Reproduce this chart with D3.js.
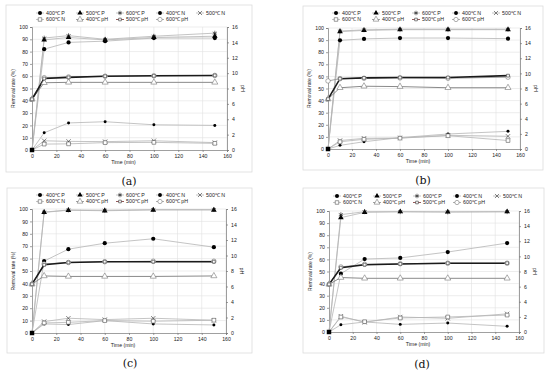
<!DOCTYPE html>
<html>
<head>
<meta charset="utf-8">
<script src="https://cdn.jsdelivr.net/npm/d3@7"></script>
<style>
body { margin: 0; background: #fff; }
svg text { font-family: "Liberation Sans", Arial, sans-serif; fill: #222; }
</style>
</head>
<body>
<svg id="chart" width="550" height="373"></svg>
<script>
// time points and legend names
var times = [0, 10, 30, 60, 100, 150];
var seriesNames = ["400℃ P", "500℃ P", "600℃ P", "400℃ N", "500℃ N",
                   "600℃ N", "400℃ pH", "500℃ pH", "600℃ pH"];
var xTicks = [0, 20, 40, 60, 80, 100, 120, 140, 160];
var yTicks = [0, 10, 20, 30, 40, 50, 60, 70, 80, 90, 100];
var phTicks = [0, 2, 4, 6, 8, 10, 12, 14, 16];
var panelLabels = ["(a)", "(b)", "(c)", "(d)"];

// removal rate (%) rows: 400P, 500P, 600P, 400N, 500N, 600N
var removalA = [
    [0, 82, 87.5, 88.5, 91, 91],
    [0, 89.5, 91.5, 89.5, 91.5, 92.5],
    [0, 91, 93, 90, 92.5, 95],
    [0, 14, 22, 23, 20.5, 20],
    [0, 7.5, 7, 6.8, 7.5, 6],
    [0, 4.8, 5, 6, 6.2, 5.4]
];
var removalB = [
    [0, 89.8, 91, 91.7, 91.7, 91.2],
    [0, 97, 98, 98.6, 98.6, 98.6],
    [0, 97.5, 98.5, 99, 99, 99],
    [0, 3, 6, 9.4, 12.4, 14.6],
    [0, 7, 8.8, 9.1, 11.3, 10.5],
    [0, 6, 8, 9, 11, 7]
];
var removalC = [
    [0, 58, 67.6, 72.4, 76, 69.2],
    [0, 97.3, 99, 98.6, 99.2, 99.2],
    [0, 97.5, 99.2, 99, 99.5, 99.5],
    [0, 7.3, 6.8, 10, 7.3, 6.5],
    [0, 9.2, 11.9, 10.8, 11.9, 10.3],
    [0, 8.1, 8.6, 10, 9.5, 10.3]
];
var removalD = [
    [0, 48.2, 60.3, 61.2, 66.1, 73.5],
    [0, 94.5, 98.9, 99.4, 99.2, 99.4],
    [0, 97, 99.4, 99.4, 99.2, 99.4],
    [0, 6, 8.3, 6.3, 7.4, 4.7],
    [0, 13, 8, 12.4, 11.3, 15],
    [0, 12.4, 8.5, 11.6, 12.4, 14]
];
// pH rows: 400, 500, 600
var phA = [
    [6.6, 8.75, 8.8, 8.8, 8.8, 8.8],
    [6.6, 9.3, 9.45, 9.6, 9.65, 9.7],
    [6.6, 9.4, 9.5, 9.6, 9.65, 9.7]
];
var phB = [
    [6.6, 8.1, 8.3, 8.25, 8.1, 8.1],
    [6.6, 9.3, 9.4, 9.45, 9.45, 9.7],
    [9.0, 9.3, 9.35, 9.4, 9.35, 9.5]
];
var phC = [
    [6.3, 7.36, 7.3, 7.3, 7.3, 7.36],
    [6.3, 8.8, 9.1, 9.2, 9.2, 9.2],
    [6.3, 8.9, 9.1, 9.2, 9.26, 9.26]
];
var phD = [
    [6.3, 7.2, 7.1, 7.1, 7.1, 7.1],
    [6.3, 8.5, 8.9, 9.0, 9.1, 9.1],
    [6.3, 8.6, 8.95, 9.03, 9.1, 9.1]
];

var removalSets = [removalA, removalB, removalC, removalD];
var phSets = [phA, phB, phC, phD];

// panel frames: box and plot area
var panels = [
    {box: [6, 5, 252, 172], plot: [32, 27, 227, 150], legendY: 13, labelX: 129, labelY: 185},
    {box: [303, 6, 543, 170], plot: [328, 28, 520, 149], legendY: 13, labelX: 423, labelY: 184},
    {box: [7, 188, 252, 353], plot: [32, 209, 226, 333], legendY: 195, labelX: 130, labelY: 367},
    {box: [303, 188, 544, 353], plot: [329, 211, 519, 332], legendY: 196, labelX: 422, labelY: 368}
];

// marker / line style per series
var styles = [
    {sym: d3.symbolCircle, size: 14, fill: "#000", stroke: "none", line: "#b5b5b5", lw: 0.8},
    {sym: d3.symbolTriangle, size: 14, fill: "#000", stroke: "none", line: "#b5b5b5", lw: 0.8},
    {sym: d3.symbolAsterisk, size: 16, fill: "none", stroke: "#111", line: "#b5b5b5", lw: 0.8},
    {sym: d3.symbolCircle, size: 7, fill: "#000", stroke: "none", line: "#b5b5b5", lw: 0.8},
    {sym: d3.symbolTimes, size: 14, fill: "none", stroke: "#333", line: "#b5b5b5", lw: 0.8},
    {sym: d3.symbolSquare, size: 14, fill: "#fff", stroke: "#555", line: "#b5b5b5", lw: 0.8},
    {sym: d3.symbolTriangle, size: 16, fill: "#fff", stroke: "#777", line: "#8a8a8a", lw: 1},
    {sym: d3.symbolSquare, size: 8, fill: "#fff", stroke: "#333", line: "#1a1a1a", lw: 1.6},
    {sym: d3.symbolCircle, size: 16, fill: "#fff", stroke: "#777", line: "#999", lw: 0.9}
];

var svg = d3.select('#chart');

panels.forEach(function(p, i) {
    drawPanel(p, removalSets[i], phSets[i], panelLabels[i]);
});

function drawPanel(p, removal, ph, label) {
    var g = svg.append('g');

    g.append('rect')
        .attr('x', p.box[0]).attr('y', p.box[1])
        .attr('width', p.box[2] - p.box[0]).attr('height', p.box[3] - p.box[1])
        .attr('fill', 'none').attr('stroke', '#dcdcdc').attr('stroke-width', 0.8);

    var x = d3.scaleLinear().domain([0, 160]).range([p.plot[0], p.plot[2]]);
    var y = d3.scaleLinear().domain([0, 100]).range([p.plot[3], p.plot[1]]);
    var yPh = d3.scaleLinear().domain([0, 16]).range([p.plot[3], p.plot[1]]);

    // grid
    g.selectAll('.vg').data(xTicks.slice(1)).enter().append('line')
        .attr('x1', x).attr('x2', x).attr('y1', p.plot[1]).attr('y2', p.plot[3])
        .attr('stroke', '#e0e0e0').attr('stroke-width', 0.6);
    g.selectAll('.hg').data(yTicks.slice(1)).enter().append('line')
        .attr('x1', p.plot[0]).attr('x2', p.plot[2]).attr('y1', y).attr('y2', y)
        .attr('stroke', '#e0e0e0').attr('stroke-width', 0.6);

    // axes
    var xAxis = g.append('g').attr('transform', 'translate(0,' + p.plot[3] + ')')
        .call(d3.axisBottom(x).tickValues(xTicks).tickSize(2).tickPadding(2));
    var yAxis = g.append('g').attr('transform', 'translate(' + p.plot[0] + ',0)')
        .call(d3.axisLeft(y).tickValues(yTicks).tickSize(2).tickPadding(2));
    var phAxis = g.append('g').attr('transform', 'translate(' + p.plot[2] + ',0)')
        .call(d3.axisRight(yPh).tickValues(phTicks).tickSize(2).tickPadding(3));
    [xAxis, yAxis, phAxis].forEach(function(a) {
        a.selectAll('path, line').attr('stroke', '#777').attr('stroke-width', 0.7);
        a.selectAll('text').attr('font-size', 5.2).attr('fill', '#222');
    });

    // axis titles
    var midY = (p.plot[1] + p.plot[3]) / 2;
    g.append('text')
        .attr('transform', 'translate(' + (p.plot[0] - 17) + ',' + midY + ') rotate(-90)')
        .attr('text-anchor', 'middle').attr('font-size', 5).text('Removal rate (%)');
    g.append('text')
        .attr('transform', 'translate(' + (p.plot[2] + 14) + ',' + midY + ') rotate(90)')
        .attr('text-anchor', 'middle').attr('font-size', 5.5).text('pH');
    g.append('text')
        .attr('x', (p.plot[0] + p.plot[2]) / 2 - 6).attr('y', p.plot[3] + 14)
        .attr('text-anchor', 'middle').attr('font-size', 5.2).text('Time (min)');

    // series: removal on left axis, pH on right axis
    var all = [];
    removal.forEach(function(vals, k) { all.push({k: k, vals: vals, scale: y}); });
    ph.forEach(function(vals, k) { all.push({k: k + 6, vals: vals, scale: yPh}); });

    // pH black line drawn last so it sits on top
    var order = [0, 1, 2, 3, 4, 5, 6, 8, 7];
    order.forEach(function(idx) {
        var s = all[idx], st = styles[s.k];
        var line = d3.line()
            .x(function(d, j) { return x(times[j]); })
            .y(function(d) { return s.scale(d); });
        g.append('path').datum(s.vals)
            .attr('d', line)
            .attr('fill', 'none').attr('stroke', st.line).attr('stroke-width', st.lw);
    });
    order.forEach(function(idx) {
        var s = all[idx], st = styles[s.k];
        g.selectAll(null).data(s.vals.slice(1)).enter().append('path')
            .attr('transform', function(d, j) {
                return 'translate(' + x(times[j + 1]) + ',' + s.scale(d) + ')';
            })
            .attr('d', d3.symbol().type(st.sym).size(st.size))
            .attr('fill', st.fill).attr('stroke', st.stroke).attr('stroke-width', 0.6);
        if (s.k >= 6) {
            g.append('path')
                .attr('transform', 'translate(' + x(times[0]) + ',' + s.scale(s.vals[0]) + ')')
                .attr('d', d3.symbol().type(st.sym).size(st.size))
                .attr('fill', st.fill).attr('stroke', st.stroke).attr('stroke-width', 0.6);
        }
    });
    // stacked starting points at the origin
    g.append('path')
        .attr('transform', 'translate(' + x(0) + ',' + y(0) + ')')
        .attr('d', d3.symbol().type(d3.symbolSquare).size(20))
        .attr('fill', '#000');

    // legend
    seriesNames.forEach(function(name, k) {
        var row = k < 5 ? 0 : 1, col = k < 5 ? k : k - 5;
        var lx = p.plot[0] + 8 + col * 40, ly = p.legendY + row * 6.5;
        var st = styles[k];
        g.append('line')
            .attr('x1', lx - 4).attr('x2', lx + 4).attr('y1', ly).attr('y2', ly)
            .attr('stroke', k === 7 ? '#7a3030' : st.line).attr('stroke-width', 0.8);
        g.append('path')
            .attr('transform', 'translate(' + lx + ',' + ly + ')')
            .attr('d', d3.symbol().type(st.sym).size(k === 3 ? 12 : st.size * 0.9))
            .attr('fill', st.fill).attr('stroke', st.stroke).attr('stroke-width', 0.6);
        g.append('text')
            .attr('x', lx + 6).attr('y', ly + 1.9)
            .attr('font-size', 5.3).text(name);
    });

    // panel label
    svg.append('text')
        .attr('x', p.labelX).attr('y', p.labelY)
        .attr('text-anchor', 'middle')
        .style('font-family', '"DejaVu Serif", "Liberation Serif", serif')
        .style('fill', '#111')
        .attr('font-size', 11).text(label);
}
</script>
</body>
</html>
